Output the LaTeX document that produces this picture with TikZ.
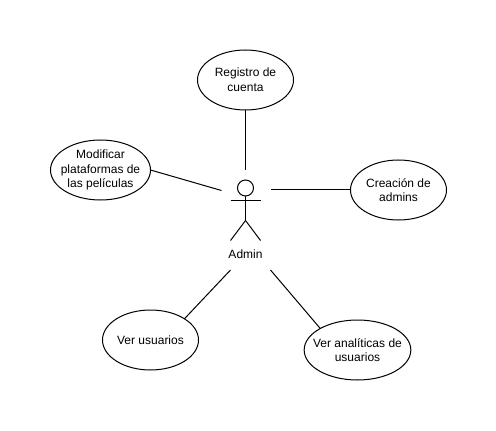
\documentclass[tikz,border=0pt]{standalone}
\usepackage{fontspec}
\setmainfont{Liberation Sans}
\usetikzlibrary{shapes.geometric}
\tikzset{
 usecase/.style={draw,ellipse,line width=0.75pt,inner sep=0pt,outer sep=0pt,fill=white,minimum height=45pt},
 casetext/.style={align=center,font=\fontsize{9pt}{11pt}\selectfont,inner sep=0pt},
 conn/.style={line width=0.75pt},
 stick/.style={line width=0.75pt}
}
\begin{document}
\begin{tikzpicture}[x=0.75pt,y=-0.75pt]
\useasboundingbox (0,0) rectangle (496,431);
\fill[white] (0,0) rectangle (496,431);
\node[usecase,minimum width=72pt,label={[casetext]center:Registro de\\cuenta}] (reg) at (245.5,80) {};
\node[usecase,minimum width=75pt,label={[casetext]center:Modificar\\plataformas de\\las películas}] (mod) at (100.5,170) {};
\node[usecase,minimum width=72pt,label={[casetext]center:Creación de\\admins}] (cre) at (398.5,190) {};
\node[usecase,minimum width=72pt,label={[casetext]center:Ver usuarios}] (ver) at (150.5,340) {};
\node[usecase,minimum width=80pt,label={[casetext]center:Ver analíticas de\\usuarios}] (ana) at (357.5,350) {};
\coordinate (a1) at (245.5,170);
\coordinate (a2) at (221.5,190.5);
\coordinate (a3) at (270.5,190);
\coordinate (a4) at (230.5,270);
\coordinate (a5) at (270.5,270);
\draw[conn] (reg.south) -- (a1);
\draw[conn] (mod.east) -- (a2);
\draw[conn] (cre.west) -- (a3);
\draw[conn] (ver.32) -- (a4);
\draw[conn] (ana.150) -- (a5);
\node[draw,circle,stick,minimum size=12pt,inner sep=0pt,outer sep=0pt] (head) at (245.5,188) {};
\coordinate (hip) at (245.5,220.5);
\coordinate (armL) at (230.5,200.5);
\coordinate (armR) at (260.5,200.5);
\coordinate (footL) at (230.5,240.5);
\coordinate (footR) at (260.5,240.5);
\draw[stick] (head.south) -- (hip);
\draw[stick] (armL) -- (armR);
\draw[stick] (hip) -- (footL);
\draw[stick] (hip) -- (footR);
\node[font=\fontsize{9pt}{11pt}\selectfont,inner sep=0pt] (admin) at (245.5,254.5) {Admin};
\end{tikzpicture}
\end{document}
